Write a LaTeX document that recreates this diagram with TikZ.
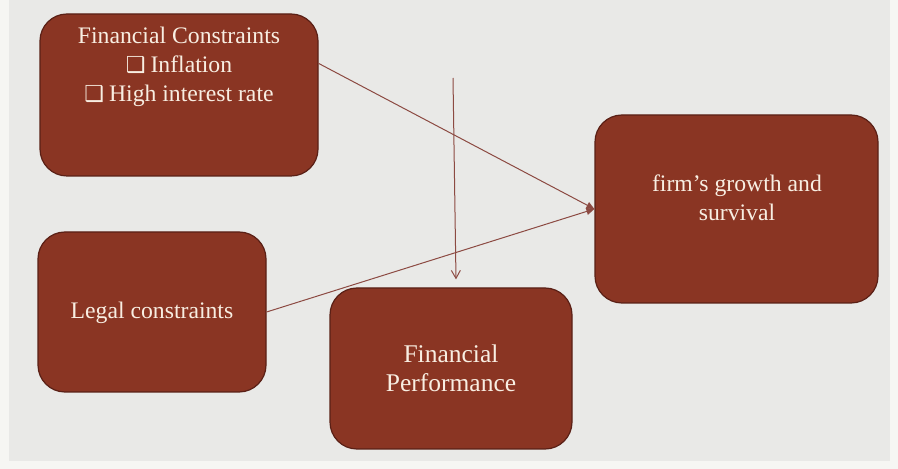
\documentclass[tikz,border=0pt]{standalone}
\usepackage{fontspec}
\setmainfont{Liberation Serif}
\newfontfamily\symfont{DejaVu Sans}
\usetikzlibrary{arrows.meta,calc}

\definecolor{pagebg}{HTML}{F6F6F3}
\definecolor{slidebg}{HTML}{E9E9E7}
\definecolor{boxfill}{HTML}{8A3523}
\definecolor{boxedge}{HTML}{5A2016}
\definecolor{cream}{HTML}{F8EEE2}
\definecolor{linkc}{HTML}{8C4A42}

\newcommand{\sqbullet}{{\symfont\fontsize{22}{29}\selectfont\char"2751}}

\begin{document}
\begin{tikzpicture}[x=1pt,y=1pt,
  box/.style={draw=boxedge, fill=boxfill, line width=1.2pt,
              rounded corners=27pt, inner sep=0pt},
  boxtext/.style={text=cream, align=center, inner sep=0pt,
                  font=\fontsize{23.7}{29}\selectfont},
  link/.style={draw=linkc, line width=1pt},
  tip/.style={-{Triangle[length=8pt,width=7pt]}},
  opentip/.style={-{Straight Barb[length=8pt,width=9pt]}}]

  % slide background
  \useasboundingbox (0,0) rectangle (898,469);
  \fill[pagebg] (0,0) rectangle (898,469);
  \fill[slidebg] (9,8) rectangle (890,469);

  % boxes
  \node[box, minimum width=278pt, minimum height=162pt] (fc) at (179,374) {};
  \node[box, minimum width=283pt, minimum height=188pt] (firm) at (736.5,260) {};
  \node[box, minimum width=228pt, minimum height=160pt] (legal) at (152,157) {};
  \node[box, minimum width=242pt, minimum height=161pt] (fp) at (451,100.5) {};

  % box texts
  \node[boxtext] (fctext) at (179,402)
    {Financial Constraints\\ \sqbullet\hspace{5pt}Inflation\\ \sqbullet\hspace{5pt}High interest rate};
  \node[boxtext] (firmtext) at (737,271) {firm’s growth and\\ survival};
  \node[boxtext] (legaltext) at (152,156) {Legal constraints};
  \node[boxtext, font=\fontsize{25.5}{29}\selectfont] (fptext) at (451,100.5)
    {Financial\\ Performance};

  % connectors
  \coordinate (fcout) at ($(fc.north east)+(0,-50)$);
  \coordinate (top) at (453,391);
  \draw[link, tip] (fcout) -- (firm.west);
  \draw[link, tip] (legal.east) -- (firm.west);
  \draw[link, opentip] (top) -- ($(fp.north)+(5,8)$);
\end{tikzpicture}
\end{document}
